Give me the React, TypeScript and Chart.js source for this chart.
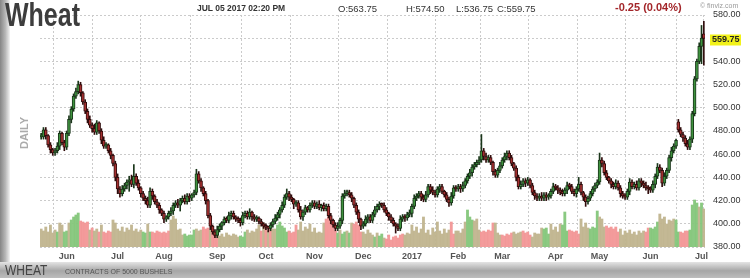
import React, { useEffect, useRef } from "react";
import { Chart, registerables } from "chart.js";

Chart.register(...registerables);

const FONT = '"Liberation Sans", Arial, sans-serif';

// Daily closes (cents/bushel), one per session, 16 May 2016 – 5 Jul 2017
const closes: number[] = [
  // May 2016
  475, 481, 476, 468, 464, 461, 463, 467, 478, 470, 466,
  // Jun 2016
  478, 490, 499, 510, 514, 520, 513, 505, 497, 490, 485, 482, 479, 487, 480, 472, 467, 468, 463, 459, 452, 440,
  // Jul 2016
  430, 426, 430, 433, 436, 438, 434, 441, 435, 431, 426, 422, 420, 416, 428, 424, 419, 416, 412, 409,
  // Aug 2016
  404, 406, 409, 411, 416, 418, 416, 420, 422, 419, 424, 422, 425, 427, 443, 437, 431, 426, 420, 407, 398, 393, 390,
  // Sep 2016
  395, 398, 401, 404, 403, 407, 409, 406, 404, 403, 401, 407, 409, 406, 410, 406, 404, 405, 402, 400, 398,
  // Oct 2016
  397, 396, 399, 402, 405, 408, 412, 416, 423, 426, 423, 421, 417, 418, 412, 406, 410, 414, 412, 416, 418,
  // Nov 2016
  415, 417, 414, 416, 413, 415, 407, 403, 399, 396, 398, 403, 424, 426, 427, 425, 422, 416, 410, 404, 398,
  // Dec 2016
  400, 404, 406, 403, 408, 412, 415, 417, 416, 412, 409, 406, 403, 400, 398, 396, 404, 406, 405, 408, 409,
  // Jan 2017
  415, 422, 424, 426, 423, 421, 425, 432, 429, 427, 425, 430, 432, 428, 425, 421, 418, 424, 431, 430,
  // Feb 2017
  432, 430, 433, 437, 441, 444, 449, 451, 453, 455, 463, 458, 455, 457, 453, 445, 442, 446, 450,
  // Mar 2017
  455, 458, 461, 457, 452, 448, 440, 432, 434, 437, 435, 438, 433, 427, 424, 422, 424, 422, 425, 423, 424, 428, 432,
  // Apr 2017
  431, 429, 427, 426, 429, 433, 432, 428, 426, 430, 434, 427, 423, 419, 422, 426, 430, 433, 436,
  // May 2017
  455, 452, 444, 440, 437, 434, 432, 435, 431, 426, 424, 423, 428, 436, 432, 434, 431, 437, 435, 433, 431, 430,
  // Jun 2017
  429, 434, 441, 449, 446, 435, 441, 446, 457, 463, 467, 472, 481, 477, 474, 469, 466, 473, 495, 525, 540, 553,
  // Jul 2017
  560, 559.75,
];

// Sessions that opened away from the prior close (index -> open)
const openOverrides: Record<number, number> = { 275: 488, 286: 563.75 };

// Upper shadow above the body, per session
const wickUp: number[] = [
  3, 2, 2, 1, 2, 1, 2, 3, 2, 1, 2,
  2, 3, 2, 2, 3, 3, 2, 1, 2, 2, 3, 2, 4, 2, 1, 2, 3, 2, 1, 2, 1, 2,
  3, 2, 3, 2, 2, 3, 4, 10, 2, 3, 1, 2, 2, 3, 3, 2, 1, 2, 2, 1,
  2, 1, 2, 3, 2, 2, 3, 2, 2, 3, 2, 2, 1, 2, 4, 2, 2, 1, 2, 1, 2, 1, 2,
  3, 2, 1, 2, 2, 3, 2, 2, 1, 2, 2, 3, 2, 2, 3, 1, 2, 2, 1, 2, 1,
  2, 1, 2, 2, 3, 2, 2, 3, 2, 4, 2, 2, 1, 2, 2, 3, 2, 2, 1, 2, 2,
  2, 2, 3, 1, 2, 2, 2, 2, 1, 2, 3, 2, 2, 3, 2, 2, 2, 1, 2, 2, 1,
  2, 3, 2, 2, 2, 3, 2, 2, 1, 2, 2, 1, 2, 2, 1, 2, 3, 2, 2, 2, 3,
  2, 3, 2, 2, 2, 2, 3, 2, 2, 3, 2, 2, 2, 2, 1, 2, 2, 3, 2, 2,
  2, 2, 3, 2, 2, 3, 2, 2, 2, 3, 14, 2, 3, 2, 2, 1, 2, 2, 3,
  2, 3, 2, 2, 2, 1, 2, 2, 3, 2, 2, 2, 1, 2, 2, 2, 2, 3, 2, 2, 2, 2, 3,
  2, 2, 2, 3, 2, 3, 2, 2, 2, 2, 6, 2, 1, 2, 2, 2, 2, 2, 2,
  6, 2, 2, 2, 1, 2, 2, 3, 2, 2, 2, 2, 2, 3, 2, 2, 3, 2, 2, 2, 3, 2,
  2, 3, 2, 3, 2, 2, 3, 2, 2, 3, 2, 1, 2, 2, 2, 2, 3, 2, 2, 2, 2, 3,
  11, 10.75,
];

// Lower shadow below the body, per session
const wickDn: number[] = [
  2, 2, 3, 2, 3, 2, 2, 2, 3, 2, 3,
  2, 2, 3, 2, 2, 2, 3, 2, 2, 3, 2, 3, 2, 2, 2, 3, 2, 2, 2, 3, 2, 3,
  4, 3, 2, 2, 3, 8, 2, 3, 2, 2, 3, 2, 3, 2, 2, 3, 2, 2, 3, 2,
  3, 2, 2, 2, 3, 2, 2, 5, 2, 2, 2, 3, 2, 2, 2, 2, 3, 2, 3, 2, 3, 2, 2,
  2, 2, 3, 2, 2, 2, 3, 2, 2, 2, 3, 2, 2, 2, 2, 3, 2, 2, 2, 2, 2,
  2, 3, 2, 2, 2, 2, 3, 2, 2, 2, 3, 2, 4, 2, 2, 2, 3, 2, 2, 2, 2,
  2, 2, 2, 3, 2, 2, 2, 3, 2, 2, 2, 2, 3, 2, 2, 2, 3, 2, 2, 3, 3,
  2, 2, 3, 2, 2, 2, 2, 3, 2, 2, 2, 3, 2, 2, 6, 2, 2, 2, 3, 2, 2,
  3, 2, 2, 2, 3, 2, 2, 2, 3, 2, 2, 2, 3, 2, 2, 2, 3, 2, 2, 2,
  2, 3, 2, 2, 2, 2, 3, 2, 2, 2, 2, 3, 2, 2, 2, 3, 2, 2, 2,
  2, 2, 3, 2, 2, 2, 3, 2, 2, 2, 3, 2, 2, 2, 3, 2, 2, 2, 2, 3, 2, 2, 2,
  2, 3, 2, 2, 2, 3, 2, 2, 2, 3, 2, 2, 3, 4, 2, 2, 2, 2, 2,
  2, 3, 2, 2, 2, 3, 2, 2, 2, 3, 2, 2, 2, 3, 2, 2, 2, 2, 3, 2, 2, 4,
  2, 2, 3, 2, 2, 3, 2, 2, 2, 3, 2, 2, 2, 2, 3, 2, 2, 2, 3, 2, 2, 2,
  15, 23,
];

// Volume (relative units), per session
const volumes: number[] = [
  18, 16, 20, 15, 22, 14, 17, 15, 24, 22, 15,
  16, 24, 27, 30, 32, 34, 26, 25, 24, 25, 17, 19, 16, 18, 15, 22, 15, 14, 16, 15, 27, 24,
  18, 16, 20, 15, 19, 17, 22, 16, 18, 15, 17, 15, 14, 23, 15, 15, 14, 16, 15, 14,
  15, 14, 16, 27, 31, 28, 17, 18, 12, 13, 11, 12, 12, 17, 18, 16, 17, 20, 18, 19, 17, 15, 14,
  12, 11, 13, 10, 14, 12, 11, 13, 12, 10, 11, 10, 15, 17, 14, 16, 15, 18, 22, 16, 24,
  20, 16, 22, 18, 18, 22, 25, 21, 19, 15, 16, 14, 15, 22, 17, 25, 16, 20, 18, 23, 15,
  19, 14, 15, 14, 24, 28, 30, 26, 27, 16, 14, 17, 13, 15, 16, 14, 24, 23, 25, 22, 15,
  15, 13, 17, 14, 12, 10, 14, 11, 13, 9, 8, 12, 7, 10, 11, 9, 12, 13, 12, 14, 13,
  22, 16, 20, 14, 18, 30, 14, 17, 12, 19, 15, 25, 16, 13, 18, 14, 17, 25, 13, 16,
  16, 14, 18, 25, 37, 30, 27, 26, 28, 17, 15, 16, 15, 17, 16, 24, 24, 14, 12,
  12, 11, 13, 12, 14, 15, 13, 14, 15, 16, 14, 15, 12, 10, 14, 13, 13, 19, 18, 19, 13, 23, 17,
  20, 15, 23, 22, 35, 16, 17, 16, 15, 16, 13, 28, 20, 24, 19, 18, 20, 19, 36,
  30, 28, 20, 21, 19, 20, 18, 20, 15, 18, 12, 16, 14, 17, 13, 15, 12, 16, 14, 16, 15, 19,
  19, 18, 20, 25, 33, 28, 30, 23, 27, 26, 28, 27, 15, 15, 14, 16, 16, 17, 42, 47, 44, 40,
  44, 38,
];

// Volume bar tone per session: g = green, r = red, t = tan
const volumeTones: string[] = [
  "tttttttgttg",
  "gtggggrrrrtrttrtrrrrtt",
  "tttttttttttggtgrrrrr",
  "rrrttttttgggggtttrrrtrrr",
  "tttttttttgggttttttrtr",
  "trttgggggrrrrtttttttt",
  "ttttrrrrrgtggtgtrrrrt",
  "ttttgtggtrrrrrrrrtttt",
  "ttttttttttttttttrrtt",
  "tttgggtttrrrrrrtttr",
  "rrrrttttrrrrtttttgggttt",
  "ttgggrrrrrttttggggt",
  "ttrrrrrrtttttttttttrrg",
  "gggtttttttggrrrrggggtgt",
  "tt",
];

const monthStarts: number[] = [11, 33, 53, 76, 97, 118, 139, 160, 180, 199, 222, 241, 263, 285];
const monthLabels: string[] = ["Jun", "Jul", "Aug", "Sep", "Oct", "Nov", "Dec", "2017", "Feb", "Mar", "Apr", "May", "Jun", "Jul"];
const priceTicks: number[] = [380, 400, 420, 440, 460, 480, 500, 520, 540, 560, 580];

const lastPrice = 559.75;
const headerDate = "JUL 05 2017 02:20 PM";
const headerOHLC: string[] = ["O:563.75", "H:574.50", "L:536.75", "C:559.75"];
const headerChange = "-0.25 (0.04%)";

const toneColors: Record<string, string> = {
  g: "rgba(132,198,122,0.95)",
  r: "rgba(242,150,150,0.95)",
  t: "rgba(192,180,142,0.95)",
};

const lastPricePlugin = {
  id: "lastPriceTag",
  afterDraw(chart: any) {
    const { ctx, chartArea, scales } = chart;
    const y = scales.y.getPixelForValue(lastPrice);
    ctx.save();
    ctx.fillStyle = "#f2f21a";
    ctx.fillRect(chartArea.right + 5, y - 4, 31, 11);
    ctx.fillStyle = "#222";
    ctx.font = `bold 9px ${FONT}`;
    ctx.textBaseline = "middle";
    ctx.fillText(lastPrice.toFixed(2), chartArea.right + 7, y + 1.5);
    ctx.restore();
  },
};

export default function App() {
  const ref = useRef<HTMLCanvasElement>(null);

  useEffect(() => {
    const canvas = ref.current;
    if (!canvas) return;
    const n = closes.length;
    const opens = closes.map((c, i) => (openOverrides[i] !== undefined ? openOverrides[i] : i === 0 ? c : closes[i - 1]));
    const highs = closes.map((c, i) => Math.max(opens[i], c) + wickUp[i]);
    const lows = closes.map((c, i) => Math.min(opens[i], c) - wickDn[i]);
    const up = closes.map((c, i) => c >= opens[i]);
    const tones = volumeTones.join("").split("");

    const gridCommon = { color: "#cbcbcb", lineWidth: 1, drawTicks: false };
    const borderCommon = { display: false, dash: [2, 2] };

    const chart = new Chart(canvas, {
      type: "bar",
      data: {
        datasets: [
          {
            label: "Volume",
            yAxisID: "yv",
            data: volumes.map((v, i) => ({ x: i, y: v })),
            backgroundColor: tones.map((t) => toneColors[t]),
            barThickness: 2.2,
            grouped: false,
            order: 3,
          } as any,
          {
            label: "Range",
            yAxisID: "y",
            data: closes.map((_, i) => ({ x: i, y: [lows[i], highs[i]] })),
            backgroundColor: up.map((u) => (u ? "#1a361a" : "#300c0c")),
            barThickness: 1,
            grouped: false,
            order: 2,
          } as any,
          {
            label: "Body",
            yAxisID: "y",
            data: closes.map((c, i) => ({ x: i, y: [opens[i], c] })),
            backgroundColor: up.map((u) => (u ? "#3e923e" : "#a53030")),
            borderColor: up.map((u) => (u ? "#1a361a" : "#300c0c")),
            borderWidth: 1,
            borderSkipped: false,
            barThickness: 3,
            minBarLength: 2,
            grouped: false,
            order: 1,
          } as any,
        ],
      },
      options: {
        responsive: false,
        animation: false,
        devicePixelRatio: 1,
        layout: { padding: { left: 40, top: 15, right: 0, bottom: 0 } },
        plugins: { legend: { display: false }, tooltip: { enabled: false } },
        scales: {
          x: {
            type: "linear",
            min: -0.5,
            max: n - 0.5,
            offset: false,
            afterBuildTicks: (s: any) => {
              s.ticks = [-0.5, ...monthStarts, n - 0.5].map((v) => ({ value: v }));
            },
            afterFit: (s: any) => {
              s.height = 31;
            },
            ticks: {
              autoSkip: false,
              maxRotation: 0,
              padding: 4,
              color: "#555",
              font: { size: 9, weight: "bold", family: FONT },
              callback: (v: any) => {
                const k = monthStarts.indexOf(Number(v));
                return k >= 0 ? monthLabels[k] : "";
              },
            },
            grid: gridCommon,
            border: borderCommon,
          },
          y: {
            position: "right",
            min: 380,
            max: 580,
            afterBuildTicks: (s: any) => {
              s.ticks = priceTicks.map((v) => ({ value: v }));
            },
            afterFit: (s: any) => {
              s.width = 45;
            },
            ticks: {
              padding: 8,
              color: "#333",
              font: { size: 9, family: FONT },
              callback: (v: any) => (Number(v) === 560 ? "" : Number(v).toFixed(2)),
            },
            grid: gridCommon,
            border: borderCommon,
          },
          yv: { display: false, min: 0, max: 232 },
        },
      } as any,
      plugins: [lastPricePlugin],
    });
    return () => chart.destroy();
  }, []);

  const abs = (extra: React.CSSProperties): React.CSSProperties => ({
    position: "absolute",
    whiteSpace: "nowrap",
    fontFamily: FONT,
    ...extra,
  });
  const ohlcLeft = [338, 406, 456, 497];

  return (
    <div style={{ position: "absolute", left: 0, top: 0, width: 750, height: 278, background: "#fff", overflow: "hidden" }}>
      <canvas ref={ref} width={750} height={278} style={{ position: "absolute", left: 0, top: 0, width: 750, height: 278 }} />
      <div style={{ position: "absolute", left: 0, top: 0, width: 10, height: 278, background: "linear-gradient(to right, #858585, #b8b8b8 55%, rgba(235,235,235,0.6))" }} />
      <div style={{ position: "absolute", left: 0, top: 262, width: 750, height: 16, background: "linear-gradient(to bottom, #e4e4e4, #a6a6a6 55%, #bdbdbd)" }} />
      <div style={abs({ left: 5, top: -1, fontSize: 25, fontWeight: "bold", lineHeight: "25px", color: "#3d3d3d", transform: "scaleY(1.3)", transformOrigin: "0 0" })}>Wheat</div>
      <div style={abs({ left: 197, top: 3, fontSize: 8.5, fontWeight: "bold", color: "#333" })}>{headerDate}</div>
      {headerOHLC.map((t, i) => (
        <div key={t} style={abs({ left: ohlcLeft[i], top: 3, fontSize: 9.5, color: "#333" })}>{t}</div>
      ))}
      <div style={abs({ left: 615, top: 1, fontSize: 11, fontWeight: "bold", color: "#a3262a" })}>{headerChange}</div>
      <div style={abs({ left: 700, top: 2, fontSize: 7, color: "#9a9a9a" })}>© finviz.com</div>
      <div style={abs({ left: 24, top: 133, fontSize: 11, fontWeight: "bold", color: "#ababab", transform: "translate(-50%, -50%) rotate(-90deg)", lineHeight: "11px" })}>DAILY</div>
      <div style={abs({ left: 5, top: 263, fontSize: 12, lineHeight: "12px", color: "#444", transform: "scaleY(1.15)", transformOrigin: "0 0" })}>WHEAT</div>
      <div style={abs({ left: 65, top: 268, fontSize: 7, lineHeight: "7px", color: "#555" })}>CONTRACTS OF 5000 BUSHELS</div>
    </div>
  );
}
